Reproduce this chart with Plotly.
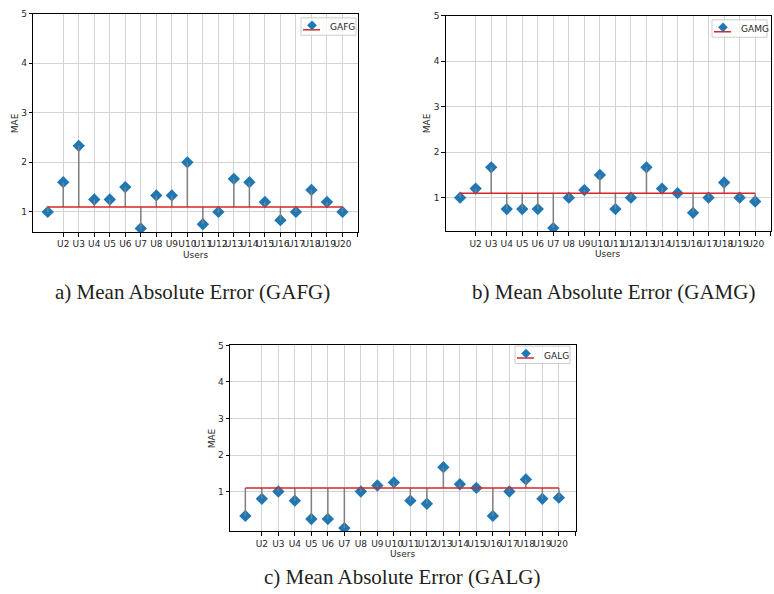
import plotly.graph_objects as go

users = ["U1", "U2", "U3", "U4", "U5", "U6", "U7", "U8", "U9", "U10",
         "U11", "U12", "U13", "U14", "U15", "U16", "U17", "U18", "U19", "U20"]
tick_labels = ["U2", "U3", "U4", "U5", "U6", "U7", "U8", "U9", "U10", "U11",
               "U12", "U13", "U14", "U15", "U16", "U17", "U18", "U19", "U20", ""]
y_ticks = [1, 2, 3, 4, 5]
baseline = 1.1

gafg = [1.0, 1.6, 2.333, 1.25, 1.25, 1.5, 0.667, 1.333, 1.333, 2.0,
        0.75, 1.0, 1.667, 1.6, 1.2, 0.833, 1.0, 1.444, 1.2, 1.0]
gamg = [1.0, 1.2, 1.667, 0.75, 0.75, 0.75, 0.333, 1.0, 1.167, 1.5,
        0.75, 1.0, 1.667, 1.2, 1.1, 0.667, 1.0, 1.333, 1.0, 0.917]
galg = [0.333, 0.8, 1.0, 0.75, 0.25, 0.25, 0.0, 1.0, 1.167, 1.25,
        0.75, 0.667, 1.667, 1.2, 1.1, 0.333, 1.0, 1.333, 0.8, 0.833]

series_names = ["GAFG", "GAMG", "GALG"]
series_vals = [gafg, gamg, galg]
captions = ["a) Mean Absolute Error (GAFG)", "b) Mean Absolute Error (GAMG)",
            "c) Mean Absolute Error (GALG)"]

W, H = 774, 594


def px(x):
    return x / W


def py(y):
    return 1 - y / H


# axes boxes in page pixels: left, top, right, bottom
boxes = [(33.3, 8.7, 358.3, 229.0), (445.7, 10.7, 771.0, 228.3), (230.0, 343.3, 575.7, 530.7)]
yranges = [[0.593, 5.0], [0.26, 5.0], [-0.086, 5.0]]
legend_boxes = [(301, 13), (712, 15), (515, 344)]

BLUE = "#1f77b4"
RED = "#d62728"
STEM = "#7f7f7f"
GRID = "#d3d3d3"
TXT = "#262626"
SANS = "DejaVu Sans"

fig = go.Figure()
layout = dict(width=W, height=H, margin=dict(l=0, r=0, t=0, b=0),
              paper_bgcolor="white", plot_bgcolor="white", showlegend=False,
              annotations=[], shapes=[])

xidx = list(range(len(users)))
tickvals = list(range(1, len(users) + 1))

for k, (name, vals) in enumerate(zip(series_names, series_vals)):
    sfx = "" if k == 0 else str(k + 1)
    xa, ya = "x" + sfx, "y" + sfx
    l, t, r, b = boxes[k]
    fig.add_trace(go.Scatter(x=xidx, y=vals, mode="markers", xaxis=xa, yaxis=ya,
                             marker=dict(symbol="diamond", size=9.5, color=BLUE),
                             hoverinfo="skip", name=name))
    sx, sy = [], []
    for i, v in zip(xidx, vals):
        sx += [i, i, None]
        sy += [baseline, v, None]
    fig.add_trace(go.Scatter(x=sx, y=sy, mode="lines", xaxis=xa, yaxis=ya,
                             line=dict(color=STEM, width=1.5), hoverinfo="skip"))
    fig.add_trace(go.Scatter(x=[xidx[0], xidx[-1]], y=[baseline, baseline], mode="lines",
                             xaxis=xa, yaxis=ya, line=dict(color=RED, width=1.5),
                             hoverinfo="skip"))

    axcommon = dict(showline=True, linecolor="black", linewidth=1, mirror=True,
                    showgrid=True, gridcolor=GRID, gridwidth=1, zeroline=False,
                    ticks="outside", ticklen=3.5, tickwidth=1, tickcolor="black",
                    tickfont=dict(family=SANS, size=9, color=TXT))
    layout["xaxis" + sfx] = dict(axcommon, domain=[px(l), px(r)], anchor=ya,
                                 range=[-0.93, 20.02], tickmode="array",
                                 tickvals=tickvals, ticktext=tick_labels, tickangle=0)
    layout["yaxis" + sfx] = dict(axcommon, domain=[py(b), py(t)], anchor=xa,
                                 range=yranges[k], tickmode="array", tickvals=y_ticks,
                                 ticktext=[str(v) for v in y_ticks])

    # legend drawn by hand (matplotlib stem legend look)
    L, T = legend_boxes[k]
    layout["shapes"].append(dict(type="rect", xref="paper", yref="paper",
                                 x0=px(L), x1=px(L + 55), y0=py(T + 17.5), y1=py(T),
                                 line=dict(color="#cccccc", width=1),
                                 fillcolor="rgba(255,255,255,0.8)", layer="above"))
    layout["shapes"].append(dict(type="line", xref="paper", yref="paper",
                                 x0=px(L + 2), x1=px(L + 19), y0=py(T + 12), y1=py(T + 12),
                                 line=dict(color=RED, width=1.5), layer="above"))
    cx, cy, d = L + 11, T + 7.5, 4.6
    path = "M {} {} L {} {} L {} {} L {} {} Z".format(
        px(cx), py(cy - d), px(cx + d), py(cy), px(cx), py(cy + d), px(cx - d), py(cy))
    layout["shapes"].append(dict(type="path", xref="paper", yref="paper", path=path,
                                 fillcolor=BLUE, line=dict(color=BLUE, width=0.5),
                                 layer="above"))
    layout["annotations"].append(dict(text=name, x=px(L + 26.5), y=py(T + 9.5),
                                      xref="paper", yref="paper", showarrow=False,
                                      xanchor="left", yanchor="middle",
                                      font=dict(family=SANS, size=9, color=TXT)))

    layout["annotations"].append(dict(text="Users", x=px((l + r) / 2), y=py(b + 23),
                                      xref="paper", yref="paper", showarrow=False,
                                      xanchor="center", yanchor="middle",
                                      font=dict(family=SANS, size=9, color=TXT)))
    layout["annotations"].append(dict(text="MAE", x=px(l - 18), y=py((t + b) / 2),
                                      xref="paper", yref="paper", showarrow=False,
                                      textangle=-90, xanchor="center", yanchor="middle",
                                      font=dict(family=SANS, size=9, color=TXT)))

cap_pos = [(192, 289), (613, 289), (402, 577)]
for cap, (cx, cy) in zip(captions, cap_pos):
    layout["annotations"].append(dict(text=cap, x=px(cx), y=py(cy), xref="paper",
                                      yref="paper", showarrow=False, xanchor="center",
                                      yanchor="middle",
                                      font=dict(family="Liberation Serif", size=21,
                                                color="#231f20")))

fig.update_layout(**layout)
fig.write_html("out.html", config={"displayModeBar": False},
               post_script="document.body.style.margin='0';"
                           "document.body.style.overflow='hidden';")
